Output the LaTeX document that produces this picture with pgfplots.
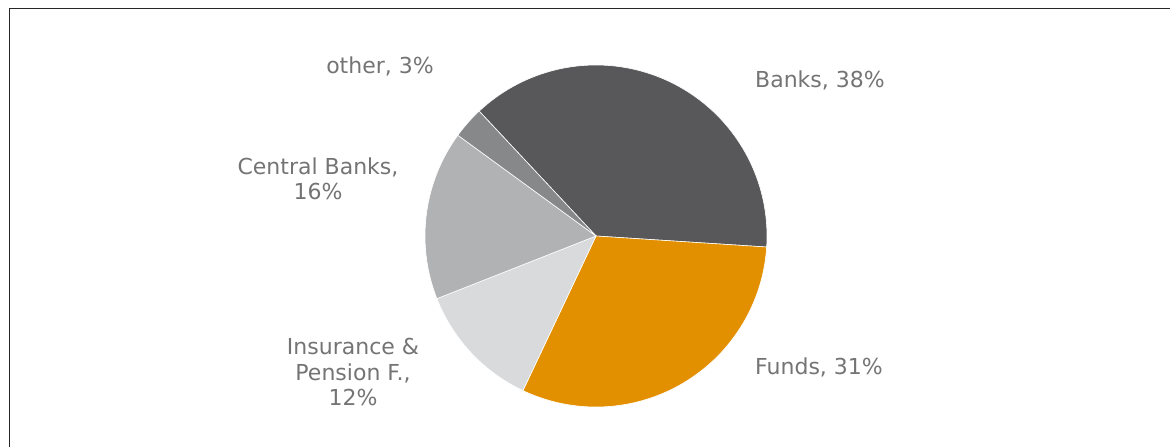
\documentclass[border=0pt]{standalone}
\usepackage{pgfplots}
\pgfplotsset{compat=1.18}
\usepackage{fontspec}
\setmainfont{DejaVu Sans}
\definecolor{cBanks}{HTML}{58585A}
\definecolor{cFunds}{HTML}{E39000}
\definecolor{cIns}{HTML}{D9DADB}
\definecolor{cCB}{HTML}{B1B2B4}
\definecolor{cOther}{HTML}{87888A}
\definecolor{txt}{HTML}{747474}
\begin{document}
\begin{tikzpicture}
% shares in percent (clockwise from start angle)
\def\vBanks{38}\def\vFunds{31}\def\vIns{12}\def\vCB{16}\def\vOther{3}
\def\startang{133.1}
\pgfmathsetmacro\aA{\startang}
\pgfmathsetmacro\aB{\aA-3.6*\vBanks}
\pgfmathsetmacro\aC{\aB-3.6*\vFunds}
\pgfmathsetmacro\aD{\aC-3.6*\vIns}
\pgfmathsetmacro\aE{\aD-3.6*\vCB}
\pgfmathsetmacro\aF{\aE-3.6*\vOther}
\def\cx{596}\def\cy{211}\def\rr{171}
\begin{axis}[
  scale only axis, width=1170pt, height=447pt,
  xmin=0, xmax=1170, ymin=0, ymax=447,
  hide axis, clip=false,
]
\addplot[fill=cBanks, draw=white, line width=0.6pt, domain=\aB:\aA, samples=80, variable=\t]
  ({\cx+\rr*cos(\t)},{\cy+\rr*sin(\t)}) -- (axis cs:\cx,\cy) -- cycle;
\addplot[fill=cFunds, draw=white, line width=0.6pt, domain=\aC:\aB, samples=80, variable=\t]
  ({\cx+\rr*cos(\t)},{\cy+\rr*sin(\t)}) -- (axis cs:\cx,\cy) -- cycle;
\addplot[fill=cIns, draw=white, line width=0.6pt, domain=\aD:\aC, samples=40, variable=\t]
  ({\cx+\rr*cos(\t)},{\cy+\rr*sin(\t)}) -- (axis cs:\cx,\cy) -- cycle;
\addplot[fill=cCB, draw=white, line width=0.6pt, domain=\aE:\aD, samples=40, variable=\t]
  ({\cx+\rr*cos(\t)},{\cy+\rr*sin(\t)}) -- (axis cs:\cx,\cy) -- cycle;
\addplot[fill=cOther, draw=white, line width=0.6pt, domain=\aF:\aE, samples=20, variable=\t]
  ({\cx+\rr*cos(\t)},{\cy+\rr*sin(\t)}) -- (axis cs:\cx,\cy) -- cycle;
% frame (left and top)
\draw[black!85, line width=1.3pt] (axis cs:9.5,0) -- (axis cs:9.5,438.5) -- (axis cs:1170,438.5);
% labels
\begin{scope}[every node/.style={text=txt, font=\fontsize{22}{25.5}\selectfont, align=center}]
\node at (axis cs:820,367) {Banks, 38\%};
\node at (axis cs:819,80) {Funds, 31\%};
\node at (axis cs:353,75) {Insurance \&\\Pension F.,\\12\%};
\node at (axis cs:318,268) {Central Banks,\\16\%};
\node at (axis cs:380,381) {other, 3\%};
\end{scope}
\end{axis}
\pgfresetboundingbox
\useasboundingbox (current axis.south west) rectangle (current axis.north east);
\end{tikzpicture}
\end{document}
